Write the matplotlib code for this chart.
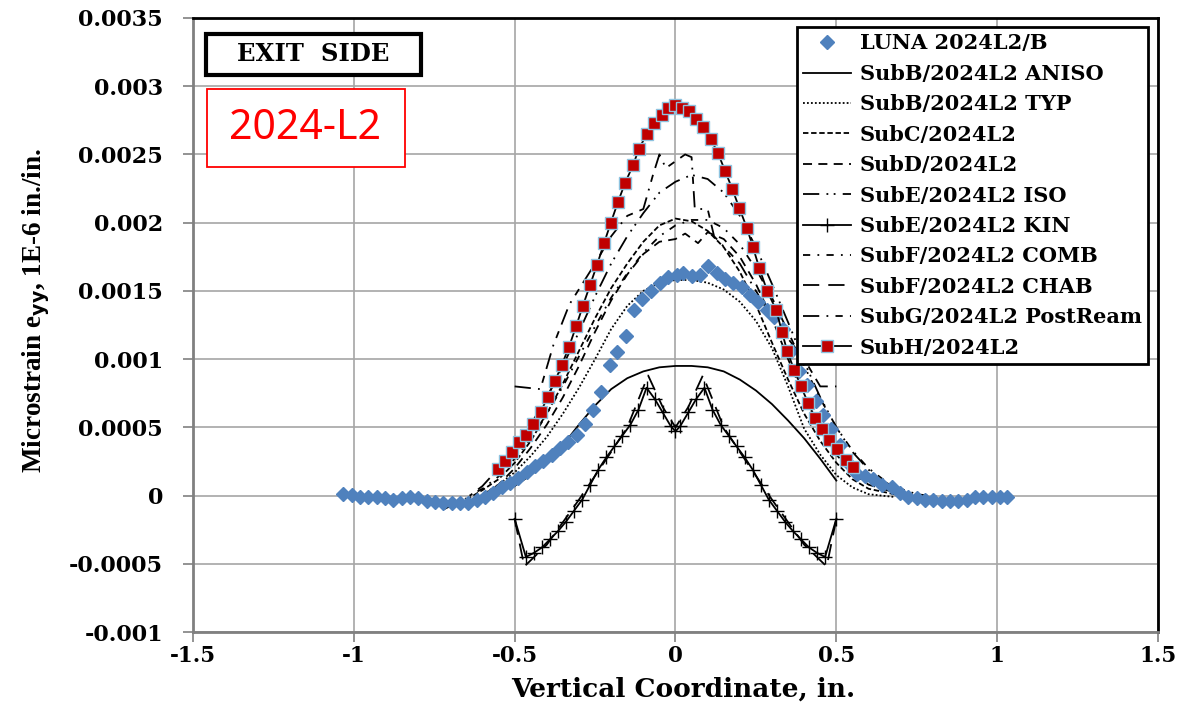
import numpy as np
import matplotlib.pyplot as plt
from matplotlib.patches import Rectangle
from matplotlib.ticker import FixedLocator, FuncFormatter

# LUNA 2024L2/B measured points
luna_x = [-1.034, -1.006, -0.981, -0.956, -0.928, -0.903, -0.878, -0.851, -0.826, -0.801,
          -0.773, -0.748, -0.723, -0.695, -0.670, -0.645, -0.617, -0.593, -0.568, -0.540,
          -0.515, -0.490, -0.462, -0.437, -0.412, -0.384, -0.359, -0.334, -0.306, -0.281,
          -0.257, -0.232, -0.204, -0.182, -0.154, -0.129, -0.104, -0.076, -0.048, -0.023,
          0.005, 0.023, 0.051, 0.076, 0.101, 0.129, 0.154, 0.179, 0.207, 0.232,
          0.257, 0.285, 0.306, 0.334, 0.359, 0.384, 0.409, 0.437, 0.459, 0.484,
          0.512, 0.536, 0.564, 0.589, 0.614, 0.642, 0.673, 0.698, 0.723, 0.751,
          0.776, 0.801, 0.829, 0.854, 0.879, 0.907, 0.932, 0.956, 0.984, 1.009, 1.031]
luna_y = [0.000015, 0.000007, -0.000007, -0.000007, -0.000007, -0.000015, -0.000029, -0.000015, -0.000007, -0.000015,
          -0.000037, -0.000044, -0.000051, -0.000051, -0.000051, -0.000051, -0.000029, -0.000007, 0.000022, 0.000066,
          0.000095, 0.000132, 0.000176, 0.00022, 0.000257, 0.0003, 0.000345, 0.000389, 0.000447, 0.000528,
          0.00063, 0.00076, 0.00096, 0.00105, 0.00117, 0.00136, 0.00144, 0.0015, 0.00156, 0.0016,
          0.00162, 0.00163, 0.00161, 0.00162, 0.00168, 0.00163, 0.00159, 0.00156, 0.00153, 0.00147,
          0.00142, 0.00136, 0.00131, 0.00122, 0.00106, 0.00091, 0.00081, 0.00069, 0.00059, 0.00049,
          0.00037, 0.00024, 0.00016, 0.00014, 0.00012, 0.00008, 0.00006, 0.00002, -0.00001, -0.00002,
          -0.00003, -0.00003, -0.00004, -0.00004, -0.00004, -0.00003, -0.00001, -0.00001, -0.00001, -0.00001, -0.00001]

# SubB ANISO
aniso_x = [-0.5, -0.45, -0.4, -0.35, -0.3, -0.25, -0.2, -0.15, -0.1, -0.05, 0.0,
           0.05, 0.1, 0.15, 0.2, 0.25, 0.3, 0.35, 0.4, 0.45, 0.5]
aniso_y = [0.00007, 0.00015, 0.00025, 0.00037, 0.00052, 0.00066, 0.00078, 0.00086, 0.00091, 0.00094, 0.00095,
           0.00095, 0.00094, 0.00091, 0.00085, 0.00077, 0.00067, 0.00055, 0.00042, 0.00027, 0.00011]

# SubB TYP
typ_x = [-0.62, -0.55, -0.5, -0.45, -0.4, -0.35, -0.3, -0.25, -0.2, -0.15, -0.1, -0.05, 0.0,
         0.05, 0.1, 0.15, 0.2, 0.25, 0.3, 0.35, 0.4, 0.45, 0.5, 0.55, 0.6, 0.68]
typ_y = [-0.00002, 0.00008, 0.00017, 0.00029, 0.00043, 0.0006, 0.00079, 0.001, 0.00122, 0.00139, 0.0015, 0.00156, 0.00158,
         0.00158, 0.00156, 0.00151, 0.00142, 0.00128, 0.00108, 0.0008, 0.00049, 0.0003, 0.00015, 0.00006, 0.00001, -0.00001]

# SubC
subc_x = [-0.65, -0.6, -0.55, -0.5, -0.45, -0.4, -0.35, -0.3, -0.25, -0.2, -0.15, -0.1, -0.05, 0.0,
          0.05, 0.1, 0.15, 0.2, 0.25, 0.3, 0.35, 0.4, 0.45, 0.5, 0.55, 0.6, 0.7]
subc_y = [-0.00003, 0.00004, 0.00012, 0.00024, 0.0004, 0.0006, 0.00082, 0.00106, 0.0013, 0.00152, 0.0017, 0.00186, 0.00198, 0.00203,
          0.00201, 0.00194, 0.00182, 0.00164, 0.0014, 0.00112, 0.00085, 0.0006, 0.0004, 0.00024, 0.00012, 0.00005, 0.0]

# SubD
subd_x = [-0.6, -0.55, -0.5, -0.45, -0.4, -0.35, -0.3, -0.25, -0.2, -0.15, -0.1, -0.05, 0.0, 0.03,
          0.07, 0.1, 0.15, 0.2, 0.25, 0.3, 0.35, 0.4, 0.45, 0.5, 0.55, 0.6, 0.7]
subd_y = [0.0, 0.00008, 0.0002, 0.00035, 0.00052, 0.00072, 0.00095, 0.0012, 0.00143, 0.00162, 0.00177, 0.00186, 0.00188, 0.00192,
          0.00185, 0.00193, 0.00188, 0.00175, 0.00155, 0.0013, 0.001, 0.00072, 0.00048, 0.0003, 0.00017, 0.00008, 0.00001]

# SubE ISO
iso_x = [-0.72, -0.65, -0.6, -0.55, -0.5, -0.45, -0.4, -0.35, -0.3, -0.25, -0.2, -0.15, -0.1, -0.05, 0.0,
         0.05, 0.1, 0.15, 0.2, 0.25, 0.3, 0.35, 0.4, 0.45, 0.5, 0.55, 0.6, 0.65, 0.7, 0.75, 0.8]
iso_y = [-0.0001, -0.00002, 0.00007, 0.0002, 0.00035, 0.00052, 0.00072, 0.00095, 0.0012, 0.00146, 0.0017, 0.0019, 0.00207, 0.00222, 0.0023,
         0.00235, 0.00232, 0.00222, 0.00205, 0.00182, 0.00155, 0.00127, 0.00098, 0.00072, 0.0005, 0.00032, 0.00019, 0.0001, 0.00004, 0.0, -0.00002]

# SubE KIN
kin_x = [-0.5, -0.465, -0.44, -0.415, -0.39, -0.365, -0.34, -0.315, -0.29, -0.265, -0.24, -0.215, -0.19, -0.165,
         -0.14, -0.115, -0.09, -0.065, -0.04, -0.015, 0.0, 0.015, 0.04, 0.065, 0.09, 0.115, 0.14, 0.165,
         0.19, 0.215, 0.24, 0.265, 0.29, 0.315, 0.34, 0.365, 0.39, 0.415, 0.44, 0.465, 0.5]
kin_y = [-0.00017, -0.00045, -0.00042, -0.00038, -0.00032, -0.00026, -0.00019, -0.00011, -0.00003, 0.00008, 0.00019, 0.00028, 0.00036, 0.00044,
         0.00052, 0.00063, 0.00079, 0.00071, 0.00061, 0.00051, 0.00047, 0.00051, 0.00061, 0.00071, 0.00079, 0.00063, 0.00052, 0.00044,
         0.00036, 0.00028, 0.00019, 0.00008, -0.00003, -0.00011, -0.00019, -0.00026, -0.00032, -0.00038, -0.00042, -0.00045, -0.00017]

# SubF COMB
comb_x = [-0.68, -0.6, -0.55, -0.5, -0.45, -0.4, -0.35, -0.3, -0.25, -0.2, -0.15, -0.1, -0.05, 0.0,
          0.05, 0.1, 0.15, 0.2, 0.25, 0.3, 0.35, 0.4, 0.45, 0.5, 0.55, 0.6, 0.65, 0.7, 0.75, 0.82]
comb_y = [-0.00005, 0.00005, 0.00014, 0.00027, 0.00042, 0.0006, 0.0008, 0.00102, 0.00124, 0.00145, 0.00163, 0.00178, 0.0019, 0.00198,
          0.00202, 0.00202, 0.00196, 0.00184, 0.00166, 0.00145, 0.0012, 0.00095, 0.00071, 0.0005, 0.00033, 0.0002, 0.00011, 0.00005, 0.00001, -0.00001]

# SubF CHAB
chab_x = [-0.5, -0.47, -0.4, -0.3, -0.2, -0.15, -0.085, -0.04, 0.0, 0.04, 0.085, 0.15, 0.2, 0.3, 0.4, 0.47, 0.5]
chab_y = [-0.00017, -0.00052, -0.00036, -0.00003, 0.00032, 0.0005, 0.00088, 0.00065, 0.0005, 0.00065, 0.00088, 0.0005, 0.00032, -0.00003, -0.00036, -0.00052, -0.00017]

# SubG PostReam
ream_x = [-0.5, -0.42, -0.38, -0.33, -0.25, -0.2, -0.15, -0.1, -0.07, -0.05, -0.03, 0.0, 0.03, 0.05, 0.06, 0.1, 0.12,
          0.2, 0.3, 0.4, 0.45, 0.5]
ream_y = [0.0008, 0.00078, 0.0011, 0.0014, 0.0017, 0.0019, 0.00205, 0.0021, 0.00235, 0.0025, 0.0024, 0.00245, 0.0025, 0.00248, 0.0021, 0.0021, 0.0019,
          0.0017, 0.0013, 0.001, 0.0008, 0.0008]

# SubH
subh_x = [-0.552, -0.530, -0.509, -0.487, -0.465, -0.443, -0.418, -0.397, -0.375, -0.353, -0.331, -0.309, -0.288,
          -0.266, -0.244, -0.222, -0.201, -0.179, -0.157, -0.132, -0.114, -0.089, -0.067, -0.042, -0.023, 0.0,
          0.020, 0.042, 0.064, 0.086, 0.110, 0.132, 0.154, 0.176, 0.198, 0.222, 0.241, 0.260, 0.285,
          0.313, 0.331, 0.347, 0.369, 0.390, 0.412, 0.434, 0.456, 0.477, 0.502, 0.530, 0.551]
subh_y = [0.000198, 0.000257, 0.000323, 0.000389, 0.000447, 0.000528, 0.000616, 0.000726, 0.000836, 0.00096, 0.00109, 0.00124, 0.00139,
          0.00154, 0.00169, 0.00185, 0.002, 0.00215, 0.00229, 0.00242, 0.00254, 0.00265, 0.00273, 0.00279, 0.00284, 0.00286,
          0.00284, 0.00282, 0.00276, 0.0027, 0.00261, 0.00251, 0.00238, 0.00225, 0.00211, 0.00196, 0.00182, 0.00167, 0.0015,
          0.00136, 0.0012, 0.00106, 0.00092, 0.0008, 0.00068, 0.00057, 0.00049, 0.00041, 0.00034, 0.00026, 0.00021]

x_ticks = [-1.5, -1, -0.5, 0, 0.5, 1, 1.5]
y_ticks = [-0.001, -0.0005, 0, 0.0005, 0.001, 0.0015, 0.002, 0.0025, 0.003, 0.0035]

plt.rcParams['font.family'] = ['DejaVu Serif']
plt.rcParams['font.weight'] = 'bold'

fig = plt.figure(figsize=(11.83, 7.08), dpi=100)
ax = fig.add_axes([0.1631, 0.1073, 0.8158, 0.8673])

lw = 1.3
ax.plot(luna_x, luna_y, linestyle='none', marker='D', markersize=7.5, color='#4F81BD',
        markeredgecolor='#4F81BD', label='LUNA 2024L2/B', zorder=4)
ax.plot(aniso_x, aniso_y, color='black', lw=lw, label='SubB/2024L2 ANISO')
ax.plot(typ_x, typ_y, color='black', lw=lw, linestyle=(0, (1, 1.2)), label='SubB/2024L2 TYP')
ax.plot(subc_x, subc_y, color='black', lw=lw, linestyle=(0, (3, 1.5)), label='SubC/2024L2')
ax.plot(subd_x, subd_y, color='black', lw=lw, linestyle=(0, (5, 3.5)), label='SubD/2024L2')
ax.plot(iso_x, iso_y, color='black', lw=lw, linestyle=(0, (9, 4, 1, 3, 1, 4)), label='SubE/2024L2 ISO')
ax.plot(kin_x, kin_y, color='black', lw=lw, marker='+', markersize=10.5, markeredgewidth=1.0,
        label='SubE/2024L2 KIN')
ax.plot(comb_x, comb_y, color='black', lw=lw, linestyle=(0, (4, 4, 1, 4)), label='SubF/2024L2 COMB')
ax.plot(chab_x, chab_y, color='black', lw=lw, linestyle=(0, (9, 5)), label='SubF/2024L2 CHAB')
ax.plot(ream_x, ream_y, color='black', lw=lw, linestyle=(0, (9, 4, 1, 4, 4, 4)), label='SubG/2024L2 PostReam')
ax.plot(subh_x, subh_y, color='black', lw=lw, marker='s', markersize=8.5, markerfacecolor='#C00000',
        markeredgecolor='#8DC3E0', markeredgewidth=1.0, label='SubH/2024L2', zorder=5)

ax.set_xlim(-1.5, 1.5)
ax.set_ylim(-0.001, 0.0035)
ax.xaxis.set_major_locator(FixedLocator(x_ticks))
ax.yaxis.set_major_locator(FixedLocator(y_ticks))
ax.xaxis.set_major_formatter(FuncFormatter(lambda v, p: f"{v:g}"))
ax.yaxis.set_major_formatter(FuncFormatter(lambda v, p: f"{round(v, 6):g}"))
ax.tick_params(axis='y', labelsize=16, direction='out', length=7, pad=14.5, color='#808080', width=1.2)
ax.tick_params(axis='x', labelsize=15.5, direction='out', length=7, pad=2, color='#808080', width=1.2)
ax.grid(True, color='#A6A6A6', lw=1.2)
ax.set_axisbelow(True)
for s in ['left', 'bottom']:
    ax.spines[s].set_color('#808080')
    ax.spines[s].set_linewidth(2)
for s in ['top', 'right']:
    ax.spines[s].set_color('black')
    ax.spines[s].set_linewidth(2)

ax.set_xlabel('Vertical Coordinate, in.', fontsize=19, fontweight='bold')
ax.xaxis.set_label_coords(0.508, -0.073)
ax.set_ylabel(r'Microstrain e$_{\mathbf{yy}}$, 1E-6 in./in.', fontsize=19.5, fontweight='bold',
              family=['Liberation Serif', 'DejaVu Serif'])
ax.yaxis.set_label_coords(-0.146, 0.523)

leg = ax.legend(loc='upper left', bbox_to_anchor=(0.626, 0.985), borderaxespad=0,
                prop={'weight': 'bold', 'size': 15},
                handlelength=2.3, handletextpad=0.4, labelspacing=0.5, borderpad=0.3,
                frameon=True, fancybox=False, edgecolor='black', framealpha=1)
leg.get_frame().set_linewidth(2)

# EXIT SIDE box
ax.add_patch(Rectangle((0.0135, 0.907), 0.2228, 0.067, transform=ax.transAxes, facecolor='white',
                       edgecolor='black', lw=3, zorder=6))
ax.text(0.1249, 0.9406, 'EXIT  SIDE', transform=ax.transAxes, fontsize=17.5, fontweight='bold',
        va='center', ha='center', zorder=7)
# 2024-L2 box
ax.add_patch(Rectangle((0.0145, 0.7573), 0.2052, 0.1271, transform=ax.transAxes, facecolor='white',
                       edgecolor='#FF0000', lw=1.3, zorder=6))
ax.text(0.116, 0.8208, '2024-L2', transform=ax.transAxes, fontsize=29.5, fontweight='bold',
        color='#FF0000', family=['Noto Sans', 'DejaVu Sans'], va='center', ha='center', zorder=7)

fig.savefig('out.png', dpi=100)
